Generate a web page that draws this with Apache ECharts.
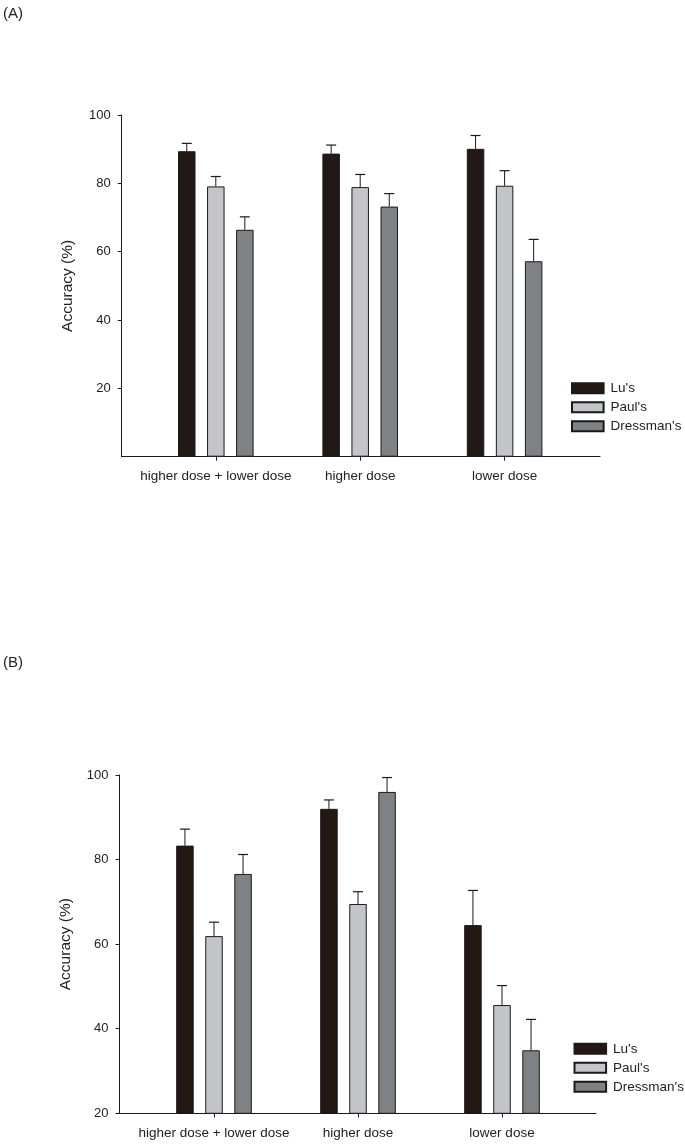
<!DOCTYPE html>
<html>
<head>
<meta charset="utf-8">
<script src="https://cdn.jsdelivr.net/npm/echarts@6/dist/echarts.min.js"></script>
<style>
html,body{margin:0;padding:0;background:#fff;}
#chart{width:685px;height:1144px;}
</style>
</head>
<body>
<div id="chart"></div>
<script>
// ---- data ----
const categories = ['higher dose + lower dose', 'higher dose', 'lower dose'];
const seriesNames = ["Lu's", "Paul's", "Dressman's"];
// Panel A (mean accuracy %)
const aLu = [89.4, 88.7, 90.1];
const aPaul = [79.1, 78.9, 79.3];
const aDress = [66.4, 73.2, 57.2];
// Panel A error bar tops
const aLuErr = [91.7, 91.2, 94.0];
const aPaulErr = [82.0, 82.6, 83.7];
const aDressErr = [70.2, 77.0, 63.6];
// Panel B
const bLu = [83.3, 92.0, 64.5];
const bPaul = [61.9, 69.5, 45.6];
const bDress = [76.6, 96.0, 34.9];
const bLuErr = [87.2, 94.1, 72.7];
const bPaulErr = [65.2, 72.4, 50.2];
const bDressErr = [81.2, 99.4, 42.2];
const yTicksA = [0, 100, 20];   // min, max, interval
const yTicksB = [20, 100, 20];

const colors = ['#231815', '#c3c5c8', '#7e8285'];
const FONT = 'Liberation Sans, Arial, sans-serif';
const BW = 17.5, GAP = 0.66;

const chart = echarts.init(document.getElementById('chart'));

function errData(tops, errs) {
  const out = [];
  tops.forEach((vals, s) => vals.forEach((v, i) => out.push([i, s, v, errs[s][i]])));
  return out;
}
function errRender(params, api) {
  const ci = api.value(0), s = api.value(1);
  const p0 = api.coord([ci, api.value(2)]);
  const p1 = api.coord([ci, api.value(3)]);
  const x = p0[0] + (s - 1) * BW * (1 + GAP);
  return {
    type: 'group',
    children: [
      {type: 'line', shape: {x1: x, y1: p0[1], x2: x, y2: p1[1]}, style: {stroke: '#1a1a1a', lineWidth: 1}},
      {type: 'line', shape: {x1: x - 5, y1: p1[1], x2: x + 5, y2: p1[1]}, style: {stroke: '#1a1a1a', lineWidth: 1.2}}
    ]
  };
}

const grids = [
  {left: 121.7, top: 115, width: 478.3, height: 341.7},   // A axes frame
  {left: 143.6, top: 115, width: 433.2, height: 341.7},   // A bars
  {left: 119.5, top: 775, width: 476.5, height: 338.3},   // B axes frame
  {left: 142, top: 775, width: 432, height: 338.3}        // B bars
];

function frameX(gi) {
  return {gridIndex: gi, type: 'value', min: 0, max: 1,
    axisLine: {show: true, onZero: false, lineStyle: {color: '#1a1a1a', width: 1}},
    axisTick: {show: false}, axisLabel: {show: false}, splitLine: {show: false}};
}
function frameY(gi, t, showMin) {
  return {gridIndex: gi, type: 'value', min: t[0], max: t[1], interval: t[2],
    name: 'Accuracy (%)', nameLocation: 'middle', nameGap: 46,
    nameTextStyle: {fontFamily: FONT, fontSize: 15.5, color: '#222'},
    axisLine: {show: true, lineStyle: {color: '#1a1a1a', width: 1}},
    axisTick: {show: true, length: 4, lineStyle: {color: '#1a1a1a'}},
    axisLabel: {margin: 11, fontFamily: FONT, fontSize: 13, color: '#222', showMinLabel: showMin},
    splitLine: {show: false}};
}
function catX(gi, margin) {
  return {gridIndex: gi, type: 'category', data: categories,
    axisLine: {show: false},
    axisTick: {show: true, alignWithLabel: true, interval: 0, length: 4, lineStyle: {color: '#1a1a1a'}},
    axisLabel: {margin: margin, interval: 0, hideOverlap: false, fontFamily: FONT, fontSize: 13.5, color: '#222'},
    splitLine: {show: false}};
}
function hiddenY(gi, t) {
  return {gridIndex: gi, type: 'value', min: t[0], max: t[1], show: false, splitLine: {show: false}};
}
function bars(xi, vals) {
  return vals.map((v, s) => ({
    type: 'bar', name: seriesNames[s], xAxisIndex: xi, yAxisIndex: xi,
    data: v, barWidth: BW, barGap: (GAP * 100) + '%',
    itemStyle: {color: colors[s], borderColor: '#1a1a1a', borderWidth: 1},
    emphasis: {disabled: true}, animation: false
  }));
}
function legend(left, top) {
  return {left: left, top: top, orient: 'vertical', data: seriesNames, padding: 0,
    icon: 'rect', itemWidth: 31.6, itemHeight: 10, itemGap: 5,
    selectedMode: false,
    textStyle: {fontFamily: FONT, fontSize: 13.5, color: '#222', lineHeight: 13, padding: [0, 0, 0, 2]}};
}

const option = {
  backgroundColor: '#fff',
  animation: false,
  grid: grids,
  xAxis: [frameX(0), catX(1, 12.5), frameX(2), catX(3, 13)],
  yAxis: [frameY(0, yTicksA, false), hiddenY(1, yTicksA), frameY(2, yTicksB, true), hiddenY(3, yTicksB)],
  legend: [legend(571, 381.2), legend(573.5, 1041.8)],
  graphic: [
    {type: 'text', left: 3, top: 6, style: {text: '(A)', fontFamily: FONT, fontSize: 15, fill: '#222'}},
    {type: 'text', left: 3, top: 655, style: {text: '(B)', fontFamily: FONT, fontSize: 15, fill: '#222'}}
  ],
  series: [
    ...bars(1, [aLu, aPaul, aDress]),
    {type: 'custom', xAxisIndex: 1, yAxisIndex: 1, renderItem: errRender, z: 3,
      data: errData([aLu, aPaul, aDress], [aLuErr, aPaulErr, aDressErr]), silent: true},
    ...bars(3, [bLu, bPaul, bDress]),
    {type: 'custom', xAxisIndex: 3, yAxisIndex: 3, renderItem: errRender, z: 3,
      data: errData([bLu, bPaul, bDress], [bLuErr, bPaulErr, bDressErr]), silent: true}
  ]
};
chart.setOption(option);
</script>
</body>
</html>
